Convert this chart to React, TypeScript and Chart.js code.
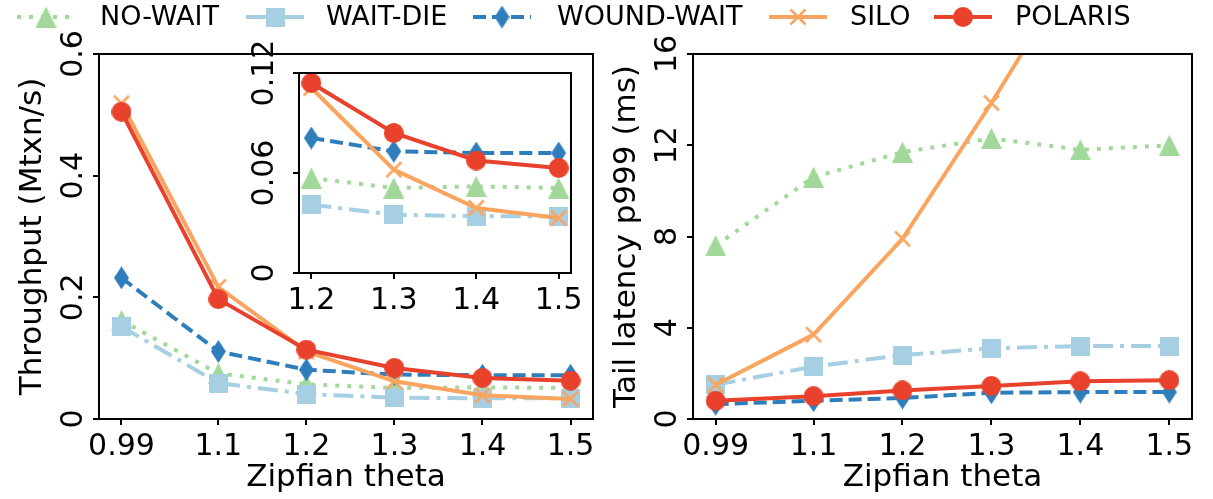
import React, { useEffect, useRef } from 'react';
import { Chart, registerables } from 'chart.js';

Chart.register(...registerables);

// ---------------- DATA ----------------
const thetas = [0.99, 1.1, 1.2, 1.3, 1.4, 1.5];
const insetThetas = [1.2, 1.3, 1.4, 1.5];

const xTickValues = [0.99, 1.1, 1.2, 1.3, 1.4, 1.5];
const xTickLabels = ['0.99', '1.1', '1.2', '1.3', '1.4', '1.5'];
const insetXTickValues = [1.2, 1.3, 1.4, 1.5];
const insetXTickLabels = ['1.2', '1.3', '1.4', '1.5'];

const throughputTickValues = [0, 0.2, 0.4, 0.6];
const throughputTickLabels = ['0', '0.2', '0.4', '0.6'];
const insetTickValues = [0, 0.06, 0.12];
const insetTickLabels = ['0', '0.06', '0.12'];
const latencyTickValues = [0, 4, 8, 12, 16];
const latencyTickLabels = ['0', '4', '8', '12', '16'];

const seriesNames = ['NO-WAIT', 'WAIT-DIE', 'WOUND-WAIT', 'SILO', 'POLARIS'];

// Throughput (Mtxn/s)
const tputNoWait = [0.162, 0.075, 0.057, 0.051, 0.052, 0.051];
const tputWaitDie = [0.152, 0.059, 0.041, 0.035, 0.034, 0.034];
const tputWoundWait = [0.232, 0.111, 0.081, 0.073, 0.072, 0.072];
const tputSilo = [0.519, 0.217, 0.111, 0.062, 0.039, 0.033];
const tputPolaris = [0.505, 0.197, 0.114, 0.084, 0.0675, 0.063];

// Inset: same series, theta 1.2 .. 1.5
const insetNoWait = [0.057, 0.051, 0.052, 0.051];
const insetWaitDie = [0.041, 0.035, 0.034, 0.034];
const insetWoundWait = [0.081, 0.073, 0.072, 0.072];
const insetSilo = [0.111, 0.062, 0.039, 0.033];
const insetPolaris = [0.114, 0.084, 0.0675, 0.063];

// Tail latency p999 (ms)
const latNoWait = [7.6, 10.6, 11.7, 12.3, 11.8, 12.0];
const latWaitDie = [1.5, 2.3, 2.8, 3.1, 3.2, 3.2];
const latWoundWait = [0.65, 0.8, 0.92, 1.15, 1.18, 1.18];
const latSilo = [1.5, 3.7, 7.9, 13.85, 20.2, 26];
const latPolaris = [0.8, 1.0, 1.25, 1.45, 1.65, 1.7];

// ---------------- STYLE ----------------
const FONT = "'DejaVu Sans', sans-serif";
const seriesColors = ['#a3d89b', '#a6cfe4', '#2f7ebc', '#f9a55f', '#e8412c'];
const seriesDashes: number[][] = [[4, 8], [20, 7, 4, 7], [13, 6], [], []];
type MarkerKind = 'triangle' | 'square' | 'diamond' | 'x' | 'circle';
const seriesMarkers: MarkerKind[] = ['triangle', 'square', 'diamond', 'x', 'circle'];

function makeMarker(kind: MarkerKind, color: string): HTMLCanvasElement {
  const dims: Record<MarkerKind, [number, number]> = {
    triangle: [21, 21],
    square: [19, 19],
    diamond: [15, 23],
    x: [18, 18],
    circle: [20, 20],
  };
  const [w, h] = dims[kind];
  const c = document.createElement('canvas');
  c.width = w;
  c.height = h;
  const g = c.getContext('2d')!;
  g.fillStyle = color;
  g.strokeStyle = color;
  g.beginPath();
  if (kind === 'triangle') {
    g.moveTo(w / 2, 0);
    g.lineTo(w, h);
    g.lineTo(0, h);
    g.closePath();
    g.fill();
  } else if (kind === 'square') {
    g.fillRect(0, 0, w, h);
  } else if (kind === 'diamond') {
    g.moveTo(w / 2, 0);
    g.lineTo(w, h / 2);
    g.lineTo(w / 2, h);
    g.lineTo(0, h / 2);
    g.closePath();
    g.fill();
  } else if (kind === 'circle') {
    g.arc(w / 2, h / 2, w / 2, 0, Math.PI * 2);
    g.fill();
  } else {
    g.lineWidth = 2.5;
    g.moveTo(1.5, 1.5);
    g.lineTo(w - 1.5, h - 1.5);
    g.moveTo(w - 1.5, 1.5);
    g.lineTo(1.5, h - 1.5);
    g.stroke();
  }
  return c;
}

type PanelOpts = {
  xs: number[];
  series: number[][];
  markers: HTMLCanvasElement[];
  xMin: number;
  xMax: number;
  xTicks: number[];
  xLabels: string[];
  yMin: number;
  yMax: number;
  yTicks: number[];
  yLabels: string[];
  padding: { left: number; top: number; right: number; bottom: number };
  yWidth: number;
  xHeight: number;
  xTitle?: string;
  yTitle?: string;
  yTitlePad: number;
  yLabelX: number;
  whiteBg?: boolean;
  extraPlugins?: any[];
};

function makeConfig(o: PanelOpts): any {
  const datasets = o.series.map((ys, i) => ({
    label: seriesNames[i],
    data: o.xs.map((x, j) => ({ x, y: ys[j] })),
    borderColor: seriesColors[i],
    backgroundColor: seriesColors[i],
    borderWidth: 4,
    borderDash: seriesDashes[i],
    borderCapStyle: 'butt',
    pointStyle: o.markers[i],
    pointRadius: 10,
    pointHoverRadius: 10,
    tension: 0,
    fill: false,
    clip: 0,
    order: o.series.length - 1 - i,
  }));

  const gridOpts = {
    display: true,
    drawOnChartArea: false,
    drawTicks: true,
    tickLength: 6,
    color: '#000',
    lineWidth: 2,
  };

  const framePlugin = {
    id: 'frameAndYLabels',
    beforeDraw(chart: any) {
      if (!o.whiteBg) return;
      const { ctx, chartArea: a } = chart;
      ctx.save();
      ctx.fillStyle = '#fff';
      ctx.fillRect(a.left, a.top, a.right - a.left, a.bottom - a.top);
      ctx.restore();
    },
    afterDraw(chart: any) {
      const { ctx, chartArea: a } = chart;
      ctx.save();
      ctx.strokeStyle = '#000';
      ctx.lineWidth = 2;
      ctx.strokeRect(a.left, a.top, a.right - a.left, a.bottom - a.top);
      const s = chart.scales.y;
      ctx.fillStyle = '#000';
      ctx.font = `30px ${FONT}`;
      ctx.textAlign = 'center';
      ctx.textBaseline = 'middle';
      s.ticks.forEach((t: any) => {
        const py = s.getPixelForValue(t.value);
        ctx.save();
        ctx.translate(o.yLabelX, py);
        ctx.rotate(-Math.PI / 2);
        ctx.fillText(String(t.label), 0, 0);
        ctx.restore();
      });
      ctx.restore();
    },
  };

  return {
    type: 'line',
    data: { datasets },
    options: {
      responsive: false,
      animation: false,
      devicePixelRatio: 1,
      events: [],
      layout: { padding: o.padding },
      plugins: { legend: { display: false }, tooltip: { enabled: false }, title: { display: false } },
      scales: {
        x: {
          type: 'linear',
          min: o.xMin,
          max: o.xMax,
          afterBuildTicks: (s: any) => {
            s.ticks = o.xTicks.map((v) => ({ value: v }));
          },
          afterFit: (s: any) => {
            s.height = o.xHeight;
            s.paddingLeft = 0;
            s.paddingRight = 0;
          },
          ticks: {
            callback: (_v: any, i: number) => o.xLabels[i],
            font: { family: FONT, size: 30 },
            color: '#000',
            padding: 4,
            maxRotation: 0,
            minRotation: 0,
            autoSkip: false,
          },
          grid: gridOpts,
          border: { display: true, color: '#000', width: 2 },
          title: {
            display: !!o.xTitle,
            text: o.xTitle || '',
            font: { family: FONT, size: 31 },
            color: '#000',
            padding: { top: 0, bottom: 2 },
          },
        },
        y: {
          type: 'linear',
          min: o.yMin,
          max: o.yMax,
          afterBuildTicks: (s: any) => {
            s.ticks = o.yTicks.map((v) => ({ value: v }));
          },
          afterFit: (s: any) => {
            s.width = o.yWidth;
            s.paddingTop = 0;
            s.paddingBottom = 0;
          },
          ticks: {
            display: false,
            callback: (_v: any, i: number) => o.yLabels[i],
            font: { family: FONT, size: 30 },
          },
          grid: gridOpts,
          border: { display: true, color: '#000', width: 2 },
          title: {
            display: !!o.yTitle,
            text: o.yTitle || '',
            font: { family: FONT, size: 31 },
            color: '#000',
            padding: { top: o.yTitlePad, bottom: 0 },
          },
        },
      },
    },
    plugins: [framePlugin, ...(o.extraPlugins || [])],
  };
}

const legendCenters = [46, 275, 502, 798, 963];
const legendTextX = [100, 326, 557, 850, 1015];

function makeLegendPlugin(markers: HTMLCanvasElement[]) {
  return {
    id: 'topLegend',
    afterDraw(chart: any) {
      const ctx = chart.ctx;
      const y = 17;
      seriesNames.forEach((name, i) => {
        const cx = legendCenters[i];
        ctx.save();
        ctx.strokeStyle = seriesColors[i];
        ctx.lineWidth = 4;
        ctx.lineCap = 'butt';
        ctx.setLineDash(seriesDashes[i]);
        ctx.beginPath();
        ctx.moveTo(cx - 29, y);
        ctx.lineTo(cx + 29, y);
        ctx.stroke();
        ctx.setLineDash([]);
        const m = markers[i];
        ctx.drawImage(m, cx - m.width / 2, y - m.height / 2);
        ctx.fillStyle = '#000';
        ctx.font = `27px ${FONT}`;
        ctx.textAlign = 'left';
        ctx.textBaseline = 'middle';
        ctx.fillText(name, legendTextX[i], y + 1);
        ctx.restore();
      });
    },
  };
}

export default function App() {
  const leftRef = useRef<HTMLCanvasElement>(null);
  const insetRef = useRef<HTMLCanvasElement>(null);
  const rightRef = useRef<HTMLCanvasElement>(null);

  useEffect(() => {
    const markers = seriesMarkers.map((m, i) => makeMarker(m, seriesColors[i]));
    const charts: Chart[] = [];

    charts.push(
      new Chart(
        leftRef.current!,
        makeConfig({
          xs: thetas,
          series: [tputNoWait, tputWaitDie, tputWoundWait, tputSilo, tputPolaris],
          markers,
          xMin: 0.9645,
          xMax: 1.5255,
          xTicks: xTickValues,
          xLabels: xTickLabels,
          yMin: 0,
          yMax: 0.6,
          yTicks: throughputTickValues,
          yLabels: throughputTickLabels,
          padding: { left: 0, top: 54, right: 1213 - 593, bottom: 0 },
          yWidth: 99,
          xHeight: 80,
          xTitle: 'Zipfian theta',
          yTitle: 'Throughput (Mtxn/s)',
          yTitlePad: 14,
          yLabelX: 74,
          extraPlugins: [makeLegendPlugin(markers)],
        })
      )
    );

    charts.push(
      new Chart(
        insetRef.current!,
        makeConfig({
          xs: insetThetas,
          series: [insetNoWait, insetWaitDie, insetWoundWait, insetSilo, insetPolaris],
          markers,
          xMin: 1.185,
          xMax: 1.515,
          xTicks: insetXTickValues,
          xLabels: insetXTickLabels,
          yMin: 0,
          yMax: 0.12,
          yTicks: insetTickValues,
          yLabels: insetTickLabels,
          padding: { left: 230, top: 73, right: 1213 - 571, bottom: 166 },
          yWidth: 69,
          xHeight: 60,
          yTitlePad: 0,
          yLabelX: 265,
          whiteBg: true,
        })
      )
    );

    charts.push(
      new Chart(
        rightRef.current!,
        makeConfig({
          xs: thetas,
          series: [latNoWait, latWaitDie, latWoundWait, latSilo, latPolaris],
          markers,
          xMin: 0.9645,
          xMax: 1.5255,
          xTicks: xTickValues,
          xLabels: xTickLabels,
          yMin: 0,
          yMax: 16,
          yTicks: latencyTickValues,
          yLabels: latencyTickLabels,
          padding: { left: 600, top: 54, right: 1213 - 1192, bottom: 0 },
          yWidth: 93,
          xHeight: 80,
          xTitle: 'Zipfian theta',
          yTitle: 'Tail latency p999 (ms)',
          yTitlePad: 8,
          yLabelX: 668,
        })
      )
    );

    return () => charts.forEach((c) => c.destroy());
  }, []);

  const cs: React.CSSProperties = { position: 'absolute', left: 0, top: 0 };
  return (
    <div style={{ position: 'fixed', left: 0, top: 0, width: 1213, height: 499, background: '#fff' }}>
      <canvas ref={leftRef} width={1213} height={499} style={cs} />
      <canvas ref={insetRef} width={1213} height={499} style={cs} />
      <canvas ref={rightRef} width={1213} height={499} style={cs} />
    </div>
  );
}
